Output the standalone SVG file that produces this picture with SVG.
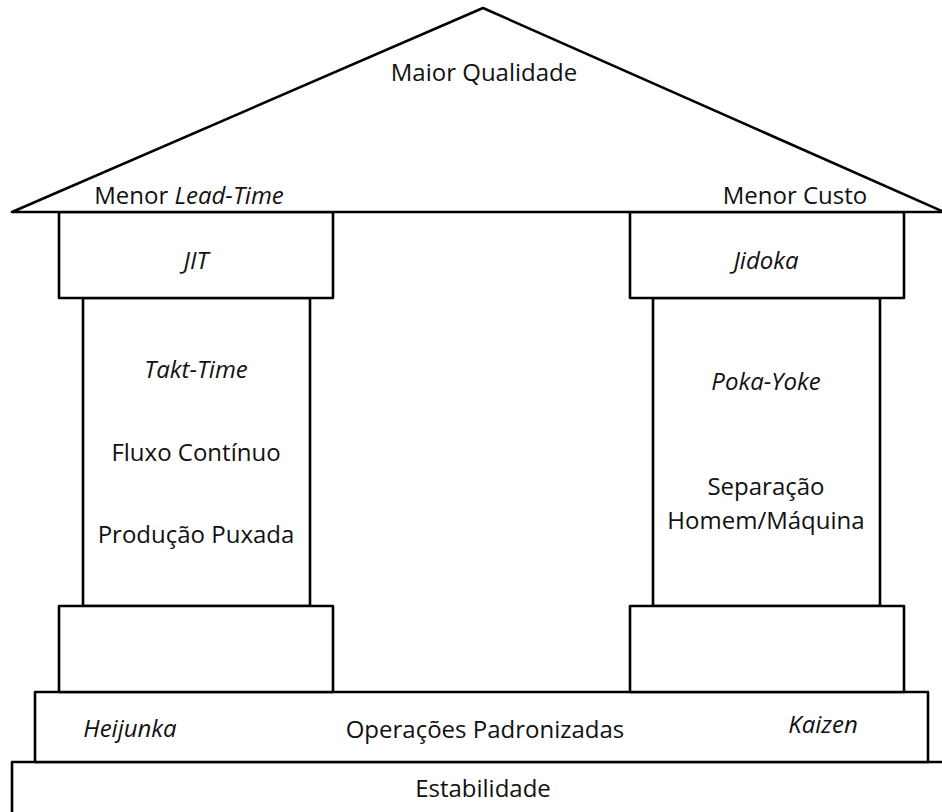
<svg xmlns="http://www.w3.org/2000/svg" width="942" height="812" viewBox="0 0 942 812">
  <style>
    .part { fill: #ffffff; stroke: #000000; stroke-width: 2.6; stroke-linejoin: round; }
    .label { font-family: "Open Sans", "Noto Sans", "Liberation Sans", sans-serif; font-size: 24px; fill: #111111; text-anchor: middle; }
    .it { font-style: italic; }
  </style>
  <rect width="942" height="812" fill="#ffffff"/>

  <!-- foundation -->
  <g id="estabilidade">
    <rect class="part" x="12" y="762" width="940" height="60"/>
    <text class="label" x="483" y="797">Estabilidade</text>
  </g>

  <!-- plinth with the base practices -->
  <g id="base">
    <rect class="part" x="35" y="692" width="893" height="70"/>
    <text class="label it" x="130" y="737">Heijunka</text>
    <text class="label" x="485" y="738">Operações Padronizadas</text>
    <text class="label it" x="823" y="733">Kaizen</text>
  </g>

  <!-- left pillar: JIT -->
  <g id="pilar-jit">
    <rect class="part" x="83" y="298" width="227" height="308"/>
    <rect class="part" x="59" y="212" width="274" height="86"/>
    <rect class="part" x="59" y="606" width="274" height="86"/>
    <text class="label it" x="196" y="269">JIT</text>
    <text class="label it" x="196" y="378">Takt-Time</text>
    <text class="label" x="196" y="461">Fluxo Contínuo</text>
    <text class="label" x="196" y="543">Produção Puxada</text>
  </g>

  <!-- right pillar: Jidoka -->
  <g id="pilar-jidoka">
    <rect class="part" x="653" y="298" width="227" height="308"/>
    <rect class="part" x="630" y="212" width="274" height="86"/>
    <rect class="part" x="630" y="606" width="274" height="86"/>
    <text class="label it" x="766" y="269">Jidoka</text>
    <text class="label it" x="766" y="390">Poka-Yoke</text>
    <text class="label" x="766" y="495">Separação</text>
    <text class="label" x="766" y="529">Homem/Máquina</text>
  </g>

  <!-- roof with the goals -->
  <g id="telhado">
    <polygon class="part" points="483,8 12,212 944,212"/>
    <text class="label" x="484" y="81">Maior Qualidade</text>
    <text class="label" x="189" y="204">Menor <tspan class="it">Lead-Time</tspan></text>
    <text class="label" x="795" y="204">Menor Custo</text>
  </g>
</svg>
